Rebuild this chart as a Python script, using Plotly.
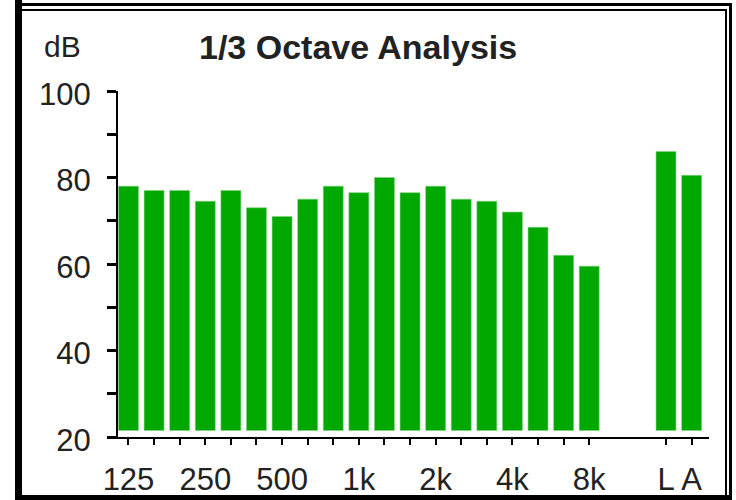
import plotly.graph_objects as go

# ---- data ----
band_labels = ["125", "160", "200", "250", "315", "400", "500", "630", "800",
               "1k", "1.25k", "1.6k", "2k", "2.5k", "3.15k", "4k", "5k", "6.3k", "8k"]
band_levels = [78, 77, 77, 74.5, 77, 73, 71, 75, 78,
               76.5, 80, 76.5, 78, 75, 74.5, 72, 68.5, 62, 59.5]
total_labels = ["L", "A"]
total_levels = [86, 80.5]
shown_x_labels = ["125", "250", "500", "1k", "2k", "4k", "8k", "L", "A"]
y_tick_values = [20, 30, 40, 50, 60, 70, 80, 90, 100]
y_tick_labels = ["20", "", "40", "", "60", "", "80", "", "100"]
title_text = "1/3 Octave Analysis"
unit_text = "dB"

# ---- layout constants ----
W, H = 736, 500
ML, MR, MT, MB = 118, 27, 91, 63
PW, PH = W - ML - MR, H - MT - MB
BAR_BASE = 21.5
GREEN = "#00A800"
FONT = "Liberation Sans, Arial, sans-serif"


def px_x(px):
    return (px - ML) / PW


def px_y(py):
    return (H - MB - py) / PH


band_pos = list(range(len(band_labels)))
total_pos = [len(band_labels) + 2 + i for i in range(len(total_labels))]
all_pos = band_pos + total_pos
all_labels = band_labels + total_labels
tick_text = [lab if lab in shown_x_labels else "" for lab in all_labels]

fig = go.Figure()
fig.add_trace(go.Bar(
    x=band_pos + total_pos,
    y=[v - BAR_BASE for v in band_levels + total_levels],
    base=BAR_BASE,
    width=0.78,
    marker=dict(color=GREEN, line=dict(width=0.6, color="#7fd47f")),
    hoverinfo="skip",
))

fig.update_layout(
    width=W, height=H,
    margin=dict(l=ML, r=MR, t=MT, b=MB, pad=0, autoexpand=False),
    paper_bgcolor="white", plot_bgcolor="white",
    showlegend=False,
    bargap=0,
    font=dict(family=FONT, color="#222222", size=31),
    xaxis=dict(
        range=[-0.41, 22.68], showgrid=False, zeroline=False,
        showline=True, linecolor="black", linewidth=2,
        tickmode="array", tickvals=all_pos, ticktext=tick_text,
        ticks="outside", ticklen=6, tickwidth=2, tickcolor="black",
        ticklabelstandoff=8, automargin=False,
        tickfont=dict(size=31, family=FONT, color="#222222"),
        fixedrange=True,
    ),
    yaxis=dict(
        range=[20, 100], showgrid=False, zeroline=False,
        showline=True, linecolor="black", linewidth=2,
        tickmode="array", tickvals=y_tick_values, ticktext=y_tick_labels,
        ticks="outside", ticklen=9, tickwidth=3, tickcolor="black",
        ticklabelstandoff=10, ticklabelshift=3, automargin=False,
        tickfont=dict(size=31, family=FONT, color="#222222"),
        fixedrange=True,
    ),
    annotations=[
        dict(text=unit_text, x=px_x(63), y=px_y(47), xref="paper", yref="paper",
             xanchor="center", yanchor="middle", showarrow=False,
             font=dict(size=30, family=FONT, color="#222222")),
        dict(text="<b>" + title_text + "</b>", x=px_x(358), y=px_y(47),
             xref="paper", yref="paper", xanchor="center", yanchor="middle",
             showarrow=False, font=dict(size=34, family=FONT, color="#222222")),
    ],
)

# frame: thick outer border plus thin inner line
frame_lines = [
    # (x0, y0, x1, y1, width)
    (18.5, 0, 18.5, 500, 7),      # left thick
    (15, 4.5, 732, 4.5, 3),       # top outer
    (22, 10, 727, 10, 2),         # top inner
    (730.5, 3, 730.5, 500, 3),    # right outer
    (726, 10, 726, 496, 2),       # right inner
    (15, 497.5, 732, 497.5, 5),   # bottom
]
for x0, y0, x1, y1, w in frame_lines:
    fig.add_shape(type="line", xref="paper", yref="paper",
                  x0=px_x(x0), y0=px_y(y0), x1=px_x(x1), y1=px_y(y1),
                  line=dict(color="black", width=w), layer="above")

fig.write_html("out.html",
               config={"displayModeBar": False, "staticPlot": True},
               post_script="document.body.style.margin='0px';"
                           "document.body.style.overflow='hidden';")
